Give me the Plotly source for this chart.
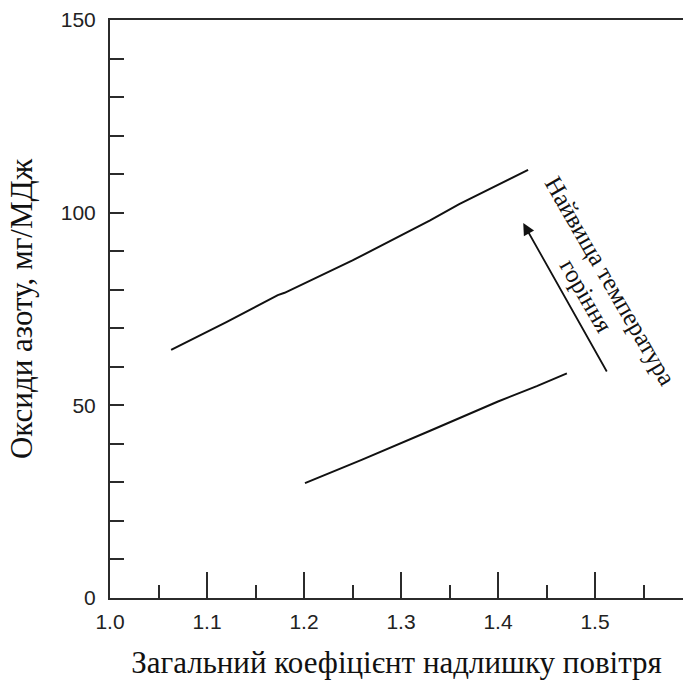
import plotly.graph_objects as go

# Excess air ratio vs NOx emission, two operating regimes
upper_x = [1.063, 1.12, 1.173, 1.18, 1.25, 1.33, 1.36, 1.431]
upper_y = [64.4, 71.6, 78.6, 79.2, 87.6, 98.0, 102.2, 111.1]

lower_x = [1.201, 1.26, 1.33, 1.40, 1.44, 1.471]
lower_y = [29.8, 35.9, 43.4, 51.0, 55.0, 58.3]

# Arrow showing direction of rising peak flame temperature
arrow_tail = (1.513, 58.4)
arrow_head = (1.426, 97.3)
label_lines = ["Найвища температура", "горіння"]
label_pos = [(1.5154, 82.3), (1.4907, 78.4)]

x_title = "Загальний коефіцієнт надлишку повітря"
y_title = "Оксиди азоту, мг/МДж"

AXIS = "#2b2b2b"
SERIF = "Liberation Serif, Times New Roman, serif"
SANS = "Liberation Sans, Arial, sans-serif"

fig = go.Figure()
for xs, ys in ((upper_x, upper_y), (lower_x, lower_y)):
    fig.add_trace(go.Scatter(x=xs, y=ys, mode="lines",
                             line=dict(color="#111111", width=2),
                             showlegend=False, hoverinfo="skip"))

fig.add_annotation(x=arrow_head[0], y=arrow_head[1],
                   ax=arrow_tail[0], ay=arrow_tail[1],
                   xref="x", yref="y", axref="x", ayref="y",
                   text="", showarrow=True, arrowhead=2, arrowsize=1.3,
                   arrowwidth=1.8, arrowcolor="#111111")

for txt, (lx, ly) in zip(label_lines, label_pos):
    fig.add_annotation(x=lx, y=ly, xref="x", yref="y",
                       text=txt, showarrow=False, textangle=60,
                       font=dict(family=SERIF, size=25, color="#111111"),
                       xanchor="center", yanchor="middle")

fig.update_layout(
    width=683, height=682,
    margin=dict(l=110, r=0, t=20, b=84),
    paper_bgcolor="white", plot_bgcolor="white",
    xaxis=dict(
        range=[1.0, 1.5907], tickmode="linear", tick0=1.0, dtick=0.1,
        tickformat=".1f", ticks="inside", ticklen=26, tickwidth=2,
        tickcolor=AXIS, showline=True, linecolor=AXIS, linewidth=2,
        mirror=True, showgrid=False, zeroline=False,
        minor=dict(dtick=0.05, tick0=1.0, ticks="inside", ticklen=13,
                   tickwidth=2, tickcolor=AXIS, showgrid=False),
        tickfont=dict(family=SANS, size=21, color="#222222"),
        ticklabelstandoff=4,
        title=dict(text=x_title, standoff=19,
                   font=dict(family=SERIF, size=31, color="#111111")),
    ),
    yaxis=dict(
        range=[0, 150], tickmode="linear", tick0=0, dtick=50,
        ticks="inside", ticklen=14, tickwidth=2, tickcolor=AXIS,
        showline=True, linecolor=AXIS, linewidth=2, mirror=False,
        showgrid=False, zeroline=False,
        minor=dict(dtick=10, tick0=0, ticks="inside", ticklen=14,
                   tickwidth=2, tickcolor=AXIS, showgrid=False),
        tickfont=dict(family=SANS, size=21, color="#222222"),
        ticklabelstandoff=8,
        title=dict(text=y_title, standoff=19,
                   font=dict(family=SERIF, size=31, color="#111111")),
    ),
)

fig.write_html("out.html")
